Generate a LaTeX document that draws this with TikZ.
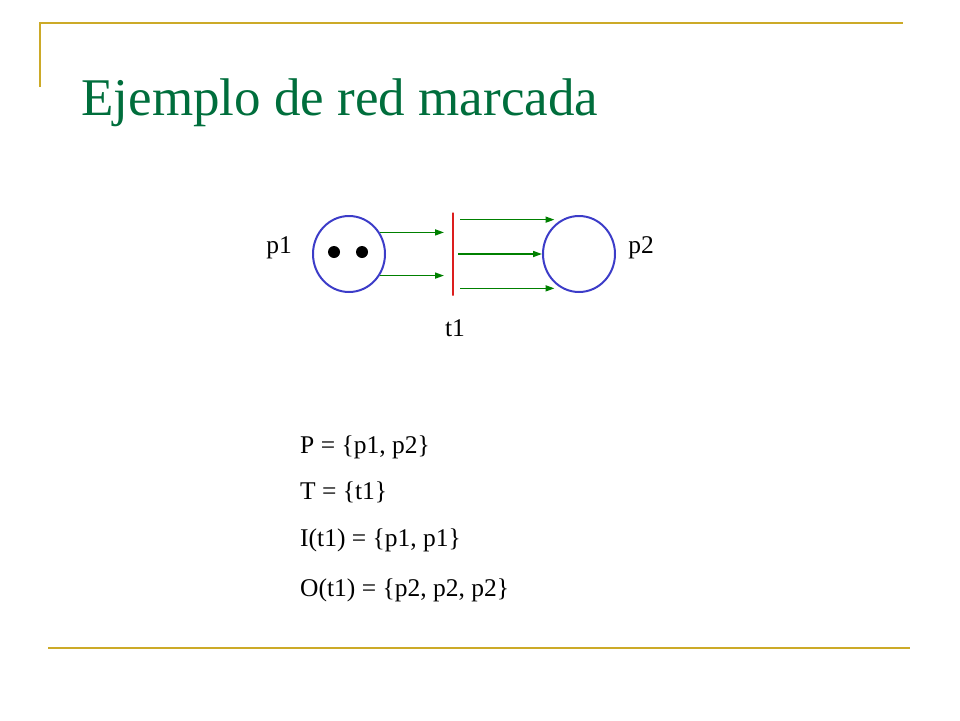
\documentclass[tikz,border=0pt]{standalone}
\usepackage{fontspec}
\setmainfont{Liberation Serif}
\usetikzlibrary{arrows.meta,positioning,shapes.geometric}
\definecolor{slidegold}{RGB}{204,170,40}
\definecolor{titlegreen}{RGB}{0,110,60}
\definecolor{placeblue}{RGB}{60,60,200}
\definecolor{arcgreen}{RGB}{0,128,0}
\definecolor{transred}{RGB}{220,30,30}
\begin{document}
\begin{tikzpicture}[x=1pt,y=-1pt,
  place/.style={draw=placeblue, line width=2pt, ellipse, minimum width=72pt, minimum height=76pt},
  token/.style={circle, fill=black, inner sep=0pt, minimum size=12pt},
  lbl/.style={font=\fontsize{25.5}{30}\selectfont},
  arc/.style={-{Triangle[length=9pt,width=6pt]}, arcgreen, line width=1.6pt}
]
  \useasboundingbox (0,0) rectangle (960,720);
  % Slide frame
  \draw[slidegold, line width=2pt] (40,87) -- (40,23) -- (903,23);
  \draw[slidegold, line width=2pt] (48,648) -- (910,648);
  \node[anchor=west, text=titlegreen, font=\fontsize{53}{58}\selectfont] (title) at (78,103) {Ejemplo de red marcada};

  % Net
  \node[place] (p1) at (349,254) {};
  \node[place] (p2) at (579,254) {};
  \node[token] (k1) at (334,252) {};
  \node[token] (k2) at (362,252) {};
  \node[draw=transred, line width=2pt, inner sep=0pt, minimum width=0pt, minimum height=83pt] (t1) at (453,254) {};
  \node[lbl] (lp1) at (279,248) {p1};
  \node[lbl] (lp2) at (641,248) {p2};
  \node[lbl] (lt1) at (455,328) {t1};

  % Arcs
  \draw[arc, shorten >=8pt] (p1.35) -- (p1.35 -| t1.west);
  \draw[arc, shorten >=8pt] (p1.-35) -- (p1.-35 -| t1.west);
  \draw[arc, shorten <=6pt, shorten >=7pt] (t1.east |- p2.117) -- (p2.117);
  \draw[arc, shorten <=4pt] (t1.east |- p2.west) -- (p2.west);
  \draw[arc, shorten <=6pt, shorten >=7pt] (t1.east |- p2.-117) -- (p2.-117);

  % Definition
  \foreach \t/\y in {{P = \{p1, p2\}}/447, {T = \{t1\}}/492, {I(t1) = \{p1, p1\}}/540, {O(t1) = \{p2, p2, p2\}}/590}
    \node[lbl, anchor=west, inner sep=0pt] at (300,\y) {\t};
\end{tikzpicture}
\end{document}
